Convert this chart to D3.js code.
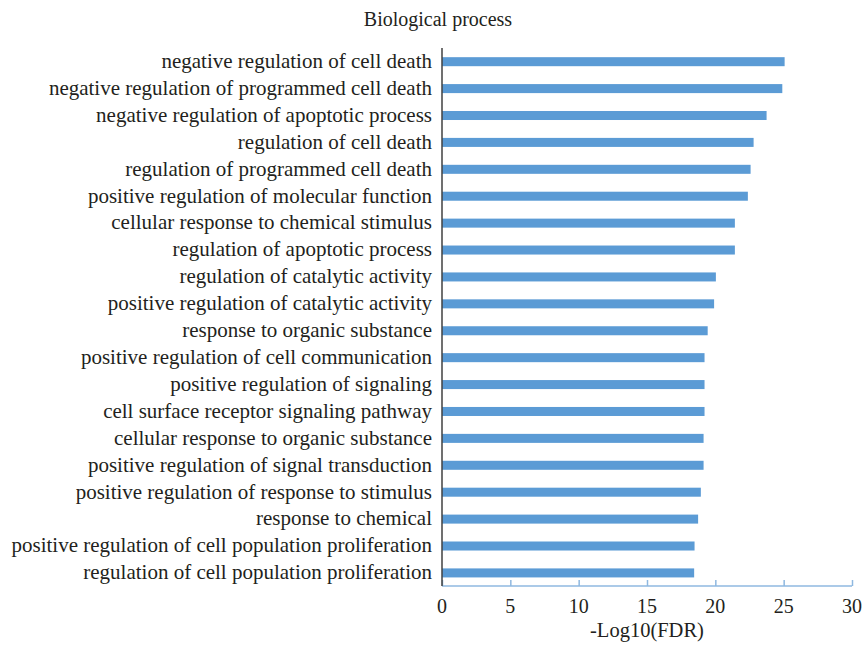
<!DOCTYPE html>
<html>
<head>
<meta charset="utf-8">
<script src="https://cdn.jsdelivr.net/npm/d3@7"></script>
<style>
  body { margin: 0; background: #fff; }
  text { font-family: "Liberation Serif", "DejaVu Serif", serif; fill: #231f20; }
</style>
</head>
<body>
<div id="chart"></div>
<script>
'use strict';

// categories, top to bottom
var terms = [
  'negative regulation of cell death',
  'negative regulation of programmed cell death',
  'negative regulation of apoptotic process',
  'regulation of cell death',
  'regulation of programmed cell death',
  'positive regulation of molecular function',
  'cellular response to chemical stimulus',
  'regulation of apoptotic process',
  'regulation of catalytic activity',
  'positive regulation of catalytic activity',
  'response to organic substance',
  'positive regulation of cell communication',
  'positive regulation of signaling',
  'cell surface receptor signaling pathway',
  'cellular response to organic substance',
  'positive regulation of signal transduction',
  'positive regulation of response to stimulus',
  'response to chemical',
  'positive regulation of cell population proliferation',
  'regulation of cell population proliferation'
];

// -log10(FDR)
var scores = [25.07, 24.9, 23.75, 22.8, 22.58, 22.38, 21.43, 21.43, 20.04, 19.91,
  19.44, 19.21, 19.21, 19.21, 19.14, 19.14, 18.94, 18.74, 18.48, 18.45];

var xTicks = [0, 5, 10, 15, 20, 25, 30];

var width = 864, height = 648;
var plotLeft = 442, plotRight = 852, plotTop = 48, plotBottom = 586;

var svg = d3.select('#chart').append('svg')
  .attr('width', width)
  .attr('height', height);

var x = d3.scaleLinear().domain([0, 30]).range([plotLeft, plotRight]);
var y = d3.scaleBand().domain(terms).range([48.3, 586.3]).paddingInner(0.665).paddingOuter(0.33);

// bars
svg.selectAll('rect.bar')
  .data(terms)
  .enter()
  .append('rect')
  .attr('class', 'bar')
  .attr('x', x(0))
  .attr('y', function(d) { return y(d); })
  .attr('width', function(d, i) { return x(scores[i]) - x(0); })
  .attr('height', y.bandwidth())
  .style('fill', '#5b9bd5');

// x axis (ticks point up into the plot)
var xAxis = svg.append('g')
  .attr('transform', 'translate(0,' + plotBottom + ')')
  .call(d3.axisTop(x).tickValues(xTicks).tickSize(6).tickFormat(''));
xAxis.select('.domain').attr('stroke', '#8fb8e0').attr('stroke-width', 1.5).attr('d', 'M' + plotLeft + ',0H' + plotRight);
xAxis.selectAll('.tick line').attr('stroke', '#8fb8e0').attr('stroke-width', 1.5);

svg.append('g').selectAll('text')
  .data(xTicks)
  .enter()
  .append('text')
  .attr('x', function(d) { return x(d); })
  .attr('y', 613)
  .attr('text-anchor', 'middle')
  .style('font-size', '20px')
  .text(function(d) { return d; });

// y axis
var yAxis = svg.append('g')
  .attr('transform', 'translate(' + plotLeft + ',0)')
  .call(d3.axisLeft(y).tickSize(0).tickPadding(10));
yAxis.select('.domain').attr('stroke', '#404040').attr('stroke-width', 1.5).attr('d', 'M0,' + plotTop + 'V' + plotBottom);
yAxis.selectAll('.tick text')
  .style('font-family', '"Liberation Serif", "DejaVu Serif", serif')
  .style('font-size', '21px')
  .attr('dy', '0.3em')
  .attr('fill', '#231f20');

// titles
svg.append('text')
  .attr('x', 438)
  .attr('y', 26)
  .attr('text-anchor', 'middle')
  .style('font-size', '20px')
  .text('Biological process');

svg.append('text')
  .attr('x', 647)
  .attr('y', 637)
  .attr('text-anchor', 'middle')
  .style('font-size', '20.5px')
  .text('-Log10(FDR)');
</script>
</body>
</html>
